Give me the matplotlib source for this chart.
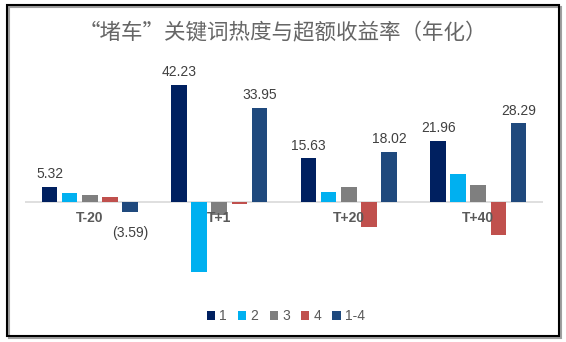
import matplotlib
matplotlib.use("Agg")
import matplotlib.pyplot as plt
from matplotlib.patches import Rectangle
import numpy as np

plt.rcParams['font.family'] = ['Liberation Sans', 'Noto Sans CJK SC', 'DejaVu Sans']

categories = ["T-20", "T+1", "T+20", "T+40"]
series_names = ["1", "2", "3", "4", "1-4"]
s1 = [5.32, 42.23, 15.63, 21.96]
s2 = [3.2, -25.3, 3.6, 10.1]
s3 = [2.5, -4.7, 5.4, 6.1]
s4 = [1.8, -0.9, -9.0, -11.9]
s14 = [-3.59, 33.95, 18.02, 28.29]
colors = ["#002060", "#00B0F0", "#7F7F7F", "#C0504D", "#1F497D"]

fig = plt.figure(figsize=(5.66, 3.42), dpi=100)
ax = fig.add_axes([25 / 566, 57 / 342, 518 / 566, 208 / 342])

x = np.arange(len(categories))
pitch = 0.155
width = 0.12
all_series = [s1, s2, s3, s4, s14]
for i, (vals, c, name) in enumerate(zip(all_series, colors, series_names)):
    pos = x + (i - 2) * pitch
    ax.bar(pos, vals, width=width, color=c, label=name, zorder=3)
    # only series 1 and 1-4 carry value labels
    if name in ("1", "1-4"):
        for px, v in zip(pos, vals):
            txt = f"{v:.2f}" if v >= 0 else f"({abs(v):.2f})"
            off = 4 if v >= 0 else -10
            ax.annotate(txt, (px, v), xytext=(0, off), textcoords="offset points",
                        ha="center", va="bottom" if v >= 0 else "top",
                        fontsize=10, color="#404040")

ax.axhline(0, color="#D9D9D9", lw=1.2, zorder=2)
for xi, cat in zip(x, categories):
    ax.text(xi, -5.8, cat, ha="center", va="center", fontsize=10,
            fontweight="bold", color="#595959", zorder=4)

ax.set_xlim(-0.5, 3.5)
ax.set_ylim(-30, 45)
ax.axis("off")

fig.text(0.5, 1 - 33 / 342, "“堵车”关键词热度与超额收益率（年化）", ha="center", va="center",
         fontsize=15.5, color="#666666", family=['Noto Sans CJK SC', 'DejaVu Sans'])

leg = fig.legend(loc="center", bbox_to_anchor=(0.505, 1 - 316 / 342), ncol=5, frameon=False,
                 fontsize=10, handlelength=0.6, handleheight=0.6, handletextpad=0.3,
                 columnspacing=0.8)
for t in leg.get_texts():
    t.set_color("#595959")

# outer frame with a light shadow
fig.patches.append(Rectangle((9 / 566, 1 - 338 / 342), 552 / 566, 331 / 342,
                             transform=fig.transFigure, fill=False, ec="#A0A0A0", lw=1.5))
fig.patches.append(Rectangle((7 / 566, 1 - 336 / 342), 552 / 566, 331 / 342,
                             transform=fig.transFigure, fill=False, ec="#000000", lw=1.5))

fig.savefig("out.png", dpi=100)
